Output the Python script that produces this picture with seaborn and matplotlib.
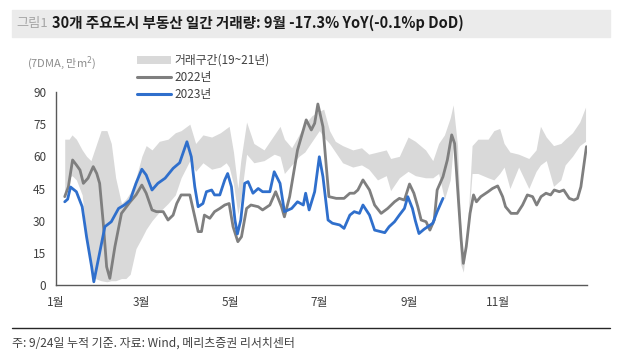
import numpy as np
import pandas as pd
import seaborn as sns
import matplotlib.pyplot as plt
from matplotlib.patches import Rectangle
from matplotlib.lines import Line2D

# day of year (0 = 1 Jan) and 7DMA volume (만m2)
band_day = [6, 9, 11, 14, 18, 21, 24, 27, 31, 35, 38, 41, 45, 48, 51, 55, 59, 62, 66, 71,
            77, 82, 86, 92, 96, 101, 107, 113, 117, 119, 122, 125, 127, 131, 136, 143, 150, 154, 157, 162,
            167, 171, 176, 181, 184, 188, 192, 197, 204, 210, 215, 221, 227, 230, 236, 242, 247, 254, 259, 263,
            267, 271, 273, 276, 278, 280, 283, 286, 290, 297, 301, 305, 308, 312, 318, 325, 330, 333, 337, 342,
            347, 350, 355, 360, 364]
band_lo = [43, 50, 51, 49, 42, 22, 8, 3, 2, 1.5, 2, 2, 3, 3, 5, 17, 22, 26, 30, 34,
           38, 42, 50, 58, 53, 57, 54, 55, 57, 55, 47, 33, 40, 61, 57, 58, 61, 60, 52, 56,
           60, 62, 67, 72, 69, 66, 62, 57, 55, 56, 54, 49, 51, 44, 50, 53, 51, 50, 50, 52,
           40, 49, 64, 44, 10, 6, 25, 52, 52, 50, 49, 52, 55, 45, 55, 45, 53, 56, 58, 46,
           49, 56, 60, 65, 67]
band_hi = [68, 68, 70, 68, 63, 60, 58, 64, 72, 72, 66, 50, 38, 40, 43, 50, 60, 65, 63, 67,
           68, 71, 72, 75, 66, 70, 69, 71, 73, 74, 62, 45, 58, 76, 66, 63, 70, 74, 68, 64,
           70, 75, 79, 81, 82, 72, 67, 65, 63, 64, 61, 62, 63, 59, 60, 69, 67, 63, 58, 66,
           70, 78, 84, 65, 30, 10, 28, 65, 68, 68, 72, 73, 66, 62, 61, 59, 63, 74, 69, 65,
           66, 68, 71, 76, 83]

day22 = [6, 8.5, 11.4, 14, 16.5, 18.8, 22, 25.6, 28, 30, 32.5, 34.8, 37, 40.5, 45, 51, 55, 59, 62, 66,
         69, 73.7, 77, 80.5, 83, 86, 92, 95.4, 97.7, 100, 102, 105.7, 109, 112.6, 116, 119, 121.7, 125, 127.5, 131,
         134, 139, 142, 147, 151, 155, 157, 160.6, 166, 172, 175.5, 177.8, 180, 183.5, 185.8, 187.6, 192.6, 198, 202, 205,
         207.5, 211, 215.5, 219, 223.5, 228, 232.7, 236, 239.5, 243, 246, 248.7, 251, 254.4, 257, 260, 262, 266, 269, 272,
         274, 276, 278.5, 280, 282, 284.6, 287, 289, 292, 297, 300, 303.6, 307, 309, 312.8, 317, 320.7, 324, 327.6, 330.4,
         333.4, 336.8, 340, 342.5, 346, 349, 352.8, 356, 358.5, 360.8, 364.6]
vol22 = [41.2, 45.8, 58.3, 56, 53.6, 47.4, 49.8, 55.2, 52, 47.4, 28.8, 8.5, 3.1, 17.9, 33.4, 38.8, 42, 46.6, 42.8, 35,
         34.2, 34.2, 30.3, 32.6, 38, 42, 42, 31.8, 24.9, 24.9, 32.6, 31.1, 34.2, 35.7, 37.3, 38, 27.2, 20.2, 22.5, 35.7,
         37.3, 36.5, 35, 37.3, 43.5, 36.5, 31.8, 41.2, 62.9, 77, 72.3, 75.4, 84.4, 73.8, 55.2, 41.2, 40.4, 40.4, 42.8, 42.8,
         44.3, 49, 44.3, 37.3, 33.4, 35.7, 38.8, 40.4, 39.6, 47.1, 42.8, 36.5, 30.3, 29.5, 25.6, 30.3, 44.3, 50.5, 58.3, 70,
         66, 45.8, 21, 10.1, 17.9, 33.4, 42, 38.8, 41.2, 43.5, 45, 46.2, 41.2, 36.5, 33.4, 33.4, 37.3, 42, 41.2, 37.3,
         41.2, 42.8, 42, 44.3, 43.5, 44.3, 40.4, 39.6, 40.4, 45.8, 64.5]

day23 = [6, 8, 10, 14, 18, 21, 24.5, 26, 30, 33.6, 38, 43, 47, 51, 55, 59, 62, 66, 70, 75,
         80.5, 85, 90, 93, 95.4, 97.7, 101, 103.4, 107, 109, 112.6, 116, 118, 120.6, 123, 124.7, 127, 129.7, 132, 135.4,
         139, 142, 147, 150, 154, 157, 162, 166, 170, 171.6, 174, 177.8, 181, 183.5, 187, 190, 195, 198, 202, 205,
         208.6, 211, 215.5, 219, 226, 229, 232.7, 236, 239.5, 241.8, 245, 247, 249.5, 253, 259, 262, 266]
vol23 = [38.8, 40, 45.7, 43.5, 36.5, 22.5, 8.5, 1.5, 15, 27.2, 29.5, 35.7, 37.3, 39.6, 47.4, 54, 51.3, 44.3, 47.4, 49.8,
         54.4, 57, 66.8, 59.8, 45.8, 36.5, 38, 43.5, 44.3, 42, 42, 49, 52, 45.8, 30.3, 23.8, 30.3, 47.4, 48.2, 42.8,
         45, 43.5, 43.5, 52.8, 47.4, 34.2, 35.7, 38.8, 37.3, 42.8, 35, 43.5, 59.8, 50.5, 30.3, 28.8, 28, 26.4, 32.6, 34.2,
         33.4, 37.3, 32.6, 25.6, 24.4, 27.2, 29.5, 32.6, 35.7, 41.2, 35.7, 30, 24, 26, 28.8, 34.2, 40.4]

month_ticks = [0, 59, 120, 181, 243, 304, 365]
month_labels = ['1월', '3월', '5월', '7월', '9월', '11월', '']

sns.set_theme(style='white')
plt.rcParams['font.family'] = ['Noto Sans CJK KR', 'DejaVu Sans']

c22 = '#7f7f7f'
c23 = '#2f6fcc'
cband = '#d9d9d9'
txt = '#404040'

fig = plt.figure(figsize=(6.21, 3.56), dpi=100)
ax = fig.add_axes([56 / 621, 1 - 285 / 356, 531 / 621, 193 / 356])

ax.fill_between(band_day, band_lo, band_hi, color=cband, linewidth=0)
df22 = pd.DataFrame({'day': day22, 'vol': vol22})
df23 = pd.DataFrame({'day': day23, 'vol': vol23})
sns.lineplot(data=df22, x='day', y='vol', color=c22, linewidth=2, ax=ax)
sns.lineplot(data=df23, x='day', y='vol', color=c23, linewidth=2, ax=ax)

ax.set_xlim(0, 365)
ax.set_ylim(0, 90)
ax.set_yticks(np.arange(0, 91, 15))
ax.set_xticks(month_ticks)
ax.set_xticklabels(month_labels)
ax.set_xlabel('')
ax.set_ylabel('')
for s in ['top', 'right']:
    ax.spines[s].set_visible(False)
for s in ['left', 'bottom']:
    ax.spines[s].set_color('#595959')
    ax.spines[s].set_linewidth(1)
ax.tick_params(axis='both', direction='out', colors='#595959', labelcolor=txt, labelsize=8.5)
ax.tick_params(axis='y', length=4, pad=3)
ax.tick_params(axis='x', length=4, pad=4)
ax.set_facecolor('white')

# legend
handles = [Rectangle((0, 0), 1, 1, color=cband, linewidth=0),
           Line2D([], [], color=c22, linewidth=2.2),
           Line2D([], [], color=c23, linewidth=2.2)]
ax.legend(handles, ['거래구간(19~21년)', '2022년', '2023년'], loc='upper left',
          bbox_to_anchor=(137 / 621, 1 - 54 / 356), bbox_transform=fig.transFigure,
          frameon=False, fontsize=8.5, handlelength=2.9, handleheight=0.7, handletextpad=0.3,
          labelspacing=0.35, borderpad=0, borderaxespad=0, labelcolor=txt)

fig.text(27 / 621, 1 - 63 / 356, '(7DMA, 만m$^2$)', fontsize=8, color='#8c8c8c', va='center')

# title band
fig.patches.append(Rectangle((12 / 621, 1 - 37 / 356), 598 / 621, 27 / 356,
                             transform=fig.transFigure, color='#ebebeb', zorder=0))
fig.text(16 / 621, 1 - 23 / 356, '그림1', fontsize=9.5, color='#a6a6a6', va='center')
fig.text(52 / 621, 1 - 23 / 356, '30개 주요도시 부동산 일간 거래량: 9월 -17.3% YoY(-0.1%p DoD)',
         fontsize=10.5, fontweight='bold', color='#1a1a1a', va='center')

# footer
fig.add_artist(Line2D([12 / 621, 610 / 621], [1 - 328 / 356, 1 - 328 / 356],
                      transform=fig.transFigure, color='#262626', linewidth=1))
fig.text(12 / 621, 1 - 343 / 356, '주: 9/24일 누적 기준. 자료: Wind, 메리츠증권 리서치센터',
         fontsize=8.6, color=txt, va='center')

fig.savefig('out.png', dpi=100)
